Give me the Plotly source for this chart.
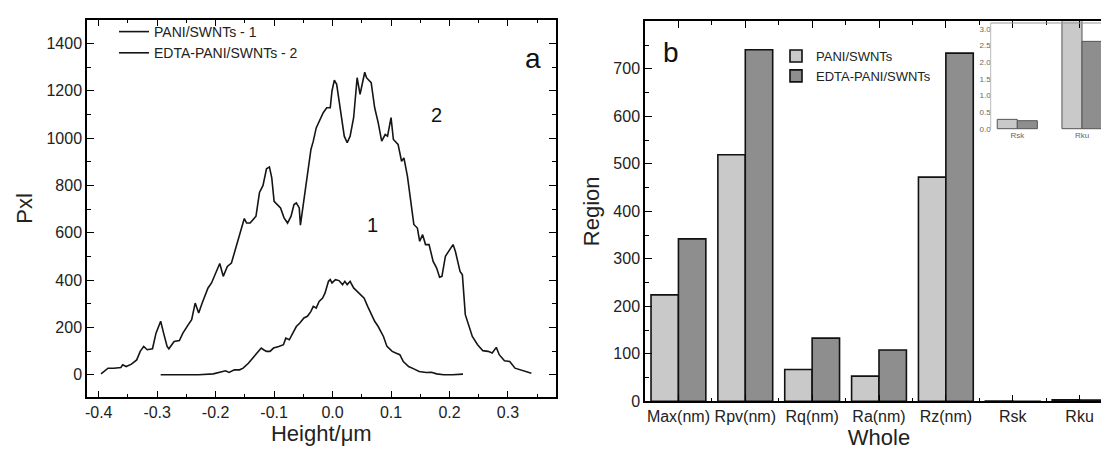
import plotly.graph_objects as go

# ---------------- data: panel a (height distribution) ----------------
h_edta = [-0.396, -0.384, -0.374, -0.362, -0.359, -0.353, -0.344, -0.335, -0.329, -0.323, -0.317, -0.308,
          -0.302, -0.294, -0.289, -0.283, -0.280, -0.271, -0.262, -0.256, -0.247, -0.241, -0.235, -0.229,
          -0.223, -0.213, -0.207, -0.198, -0.193, -0.187, -0.180, -0.173, -0.162, -0.156, -0.151, -0.147,
          -0.141, -0.131, -0.125, -0.119, -0.113, -0.108, -0.104, -0.100, -0.095, -0.089, -0.083, -0.077,
          -0.071, -0.066, -0.062, -0.057, -0.055, -0.051, -0.043, -0.037, -0.033, -0.028, -0.022, -0.016,
          -0.010, -0.004, -0.001, 0.003, 0.007, 0.014, 0.020, 0.025, 0.030, 0.036, 0.042, 0.047, 0.055,
          0.058, 0.066, 0.072, 0.078, 0.084, 0.090, 0.094, 0.100, 0.104, 0.112, 0.118, 0.122, 0.128, 0.134,
          0.139, 0.145, 0.149, 0.154, 0.159, 0.165, 0.172, 0.178, 0.183, 0.187, 0.193, 0.206, 0.210, 0.218,
          0.222, 0.227, 0.232, 0.239, 0.248, 0.257, 0.266, 0.273, 0.280, 0.285, 0.294, 0.303, 0.312, 0.321,
          0.330, 0.340]
p_edta = [4, 28, 28, 31, 42, 35, 45, 63, 99, 120, 106, 110,
          176, 226, 176, 120, 110, 141, 145, 176, 211, 233, 303, 261,
          303, 367, 388, 437, 470, 416, 458, 472, 564, 620, 660, 641,
          641, 670, 770, 800, 870, 878, 832, 733, 719, 705, 663, 641,
          670, 719, 726, 705, 632, 712, 846, 952, 987, 1043, 1079, 1107,
          1128, 1128, 1199, 1245, 1227, 1100, 1008, 980, 1008, 1086, 1255, 1185, 1278,
          1255, 1234, 1128, 1065, 987, 1015, 1008, 1086, 994, 973, 902, 916, 839, 733,
          635, 620, 564, 592, 550, 550, 479, 451, 412, 416, 501, 550, 522, 437,
          423, 254, 211, 162, 127, 102, 99, 92, 116, 85, 59, 56, 28, 21,
          17, 7]

h_pani = [-0.294, -0.229, -0.204, -0.192, -0.183, -0.177, -0.168, -0.159, -0.153, -0.144, -0.134, -0.128,
          -0.122, -0.118, -0.113, -0.107, -0.101, -0.092, -0.084, -0.080, -0.074, -0.068, -0.062, -0.056,
          -0.049, -0.043, -0.037, -0.033, -0.028, -0.023, -0.017, -0.013, -0.010, -0.007, -0.004, -0.001,
          0.005, 0.011, 0.017, 0.021, 0.025, 0.030, 0.036, 0.045, 0.054, 0.060, 0.066, 0.072, 0.078, 0.087,
          0.093, 0.102, 0.108, 0.115, 0.121, 0.130, 0.139, 0.148, 0.160, 0.169, 0.178, 0.190, 0.205, 0.217,
          0.223]
p_pani = [0, 0, 4, 10, 17, 10, 21, 21, 28, 49, 78, 92,
          113, 106, 99, 99, 113, 120, 127, 155, 148, 176, 204, 219,
          240, 247, 268, 289, 282, 310, 324, 345, 367, 395, 402, 388,
          402, 398, 381, 395, 381, 395, 367, 345, 324, 289, 254, 226, 204, 162,
          120, 99, 92, 85, 56, 35, 25, 14, 10, 11, 4, 0, 0, 3,
          3]

# ---------------- data: panel b (roughness parameters) ----------------
categories = ["Max(nm)", "Rpv(nm)", "Rq(nm)", "Ra(nm)", "Rz(nm)", "Rsk", "Rku"]
pani_vals = [224, 519, 67, 53, 472, 0.28, 3.3]
edta_vals = [342, 740, 133, 108, 733, 0.24, 2.62]
inset_idx = [5, 6]
inset_ticks = [0, 0.5, 1.0, 1.5, 2.0, 2.5, 3.0]

FONT = "Liberation Sans, Arial, sans-serif"
LIGHT = "#c9c9c9"
DARK = "#8e8e8e"

fig = go.Figure()

fig.add_trace(go.Scatter(x=h_pani, y=p_pani, mode="lines", name="PANI/SWNTs - 1",
                         line=dict(color="#151515", width=1.6), xaxis="x", yaxis="y", legend="legend"))
fig.add_trace(go.Scatter(x=h_edta, y=p_edta, mode="lines", name="EDTA-PANI/SWNTs - 2",
                         line=dict(color="#151515", width=1.6), xaxis="x", yaxis="y", legend="legend"))

xpos = list(range(len(categories)))
fig.add_trace(go.Bar(x=xpos, y=pani_vals, name="PANI/SWNTs", width=0.41, offset=-0.41,
                     marker=dict(color=LIGHT, line=dict(color="#111", width=1.6)),
                     xaxis="x2", yaxis="y2", legend="legend2"))
fig.add_trace(go.Bar(x=xpos, y=edta_vals, name="EDTA-PANI/SWNTs", width=0.41, offset=0.0,
                     marker=dict(color=DARK, line=dict(color="#111", width=1.6)),
                     xaxis="x2", yaxis="y2", legend="legend2"))

ix = list(range(len(inset_idx)))
fig.add_trace(go.Bar(x=ix, y=[pani_vals[i] for i in inset_idx], width=0.31, offset=-0.31,
                     marker=dict(color=LIGHT, line=dict(color="#555", width=1)),
                     xaxis="x3", yaxis="y3", showlegend=False))
fig.add_trace(go.Bar(x=ix, y=[edta_vals[i] for i in inset_idx], width=0.31, offset=0.0,
                     marker=dict(color=DARK, line=dict(color="#555", width=1)),
                     xaxis="x3", yaxis="y3", showlegend=False))

W, H = 1109, 453
def px(v): return v / W
def py(v): return 1 - v / H

R_L, R_R, R_T, R_B = 637, 1105, 13.3, 393.3
I_L, I_R, I_B, I_T = 982.7, 1101, 120.7, 15
I_PX_PER_UNIT_Y = 100 / 3.0
I_PX_PER_CAT = 64.7
I_CAT0 = 1009.3
y3_hi = (I_B - R_T) / I_PX_PER_UNIT_Y
y3_lo = y3_hi - (R_B - R_T) / I_PX_PER_UNIT_Y
x3_lo = -(I_CAT0 - R_L) / I_PX_PER_CAT
x3_hi = x3_lo + (R_R - R_L) / I_PX_PER_CAT
ix_left = -(I_CAT0 - I_L) / I_PX_PER_CAT
ix_right = (I_R - I_CAT0) / I_PX_PER_CAT
iy_top = (I_B - I_T) / I_PX_PER_UNIT_Y

common = dict(showline=True, linecolor="black", linewidth=1.5, mirror="allticks", ticks="inside",
              tickcolor="black", tickwidth=1.3, ticklen=7, showgrid=False, zeroline=False,
              tickfont=dict(family=FONT, size=16, color="#222"))

fig.update_layout(
    width=W, height=H, margin=dict(l=0, r=0, t=0, b=0, autoexpand=False),
    paper_bgcolor="white", plot_bgcolor="white",
    font=dict(family=FONT, color="#222"),
    barmode="group",
    xaxis=dict(domain=[px(79), px(547.7)], anchor="y", range=[-0.42, 0.3816],
               tickvals=[-0.4, -0.3, -0.2, -0.1, 0.0, 0.1, 0.2, 0.3],
               ticktext=["-0.4", "-0.3", "-0.2", "-0.1", "0.0", "0.1", "0.2", "0.3"],
               minor=dict(ticks="inside", ticklen=4, tickcolor="black", dtick=0.05, tick0=0),
               title=dict(text="Height/μm", font=dict(family=FONT, size=22), standoff=5),
               **common),
    yaxis=dict(domain=[py(389.3), py(11.7)], anchor="x", range=[-95, 1500],
               tickvals=[0, 200, 400, 600, 800, 1000, 1200, 1400],
               minor=dict(ticks="inside", ticklen=4, tickcolor="black", dtick=100, tick0=0),
               title=dict(text="Pxl", font=dict(family=FONT, size=22), standoff=8),
               **common),
    xaxis2=dict(domain=[px(R_L), px(R_R)], anchor="y2", range=[-0.5, 6.5],
                tickvals=xpos, ticktext=categories,
                minor=dict(ticks="inside", ticklen=4, tickcolor="black", tickvals=[0.5, 1.5, 2.5, 3.5, 4.5, 5.5]),
                title=dict(text="Whole", font=dict(family=FONT, size=22), standoff=5),
                **common),
    yaxis2=dict(domain=[py(R_B), py(R_T)], anchor="x2", range=[0, 800],
                tickvals=[0, 100, 200, 300, 400, 500, 600, 700],
                minor=dict(ticks="inside", ticklen=4, tickcolor="black", dtick=50, tick0=0),
                title=dict(text="Region", font=dict(family=FONT, size=22), standoff=8),
                **common),
    xaxis3=dict(overlaying="x2", anchor="free", position=py(I_B), range=[x3_lo, x3_hi],
                tickvals=ix, ticktext=[categories[i] for i in inset_idx],
                showline=False, ticks="", showgrid=False, zeroline=False,
                tickfont=dict(family=FONT, size=8, color="#666")),
    yaxis3=dict(overlaying="y2", anchor="free", position=px(I_L), range=[y3_lo, y3_hi],
                tickvals=inset_ticks, ticktext=["%.1f" % t for t in inset_ticks],
                showline=False, ticks="", showgrid=False, zeroline=False,
                tickfont=dict(family=FONT, size=8, color="#666")),
    legend=dict(x=px(106), y=py(8), xanchor="left", yanchor="top", bgcolor="rgba(0,0,0,0)",
                font=dict(family=FONT, size=14, color="#222"), tracegroupgap=0),
    legend2=dict(x=px(768), y=py(33), xanchor="left", yanchor="top", bgcolor="rgba(0,0,0,0)",
                 font=dict(family=FONT, size=13, color="#222"), tracegroupgap=0),
    shapes=[
        dict(type="line", xref="x3", yref="y3", x0=ix_left, x1=ix_left, y0=0, y1=iy_top,
             line=dict(color="#bbbbbb", width=1)),
        dict(type="line", xref="x3", yref="y3", x0=ix_left, x1=ix_right, y0=iy_top, y1=iy_top,
             line=dict(color="#999999", width=1)),
    ],
    annotations=[
        dict(text="a", x=px(525), y=py(50), xref="paper", yref="paper", showarrow=False,
             xanchor="center", yanchor="middle", font=dict(family=FONT, size=28, color="#111")),
        dict(text="b", x=px(663), y=py(45), xref="paper", yref="paper", showarrow=False,
             xanchor="center", yanchor="middle", font=dict(family=FONT, size=28, color="#111")),
        dict(text="2", x=0.177, y=1097, xref="x", yref="y", showarrow=False,
             font=dict(family=FONT, size=20, color="#111")),
        dict(text="1", x=0.0675, y=631, xref="x", yref="y", showarrow=False,
             font=dict(family=FONT, size=20, color="#111")),
    ],
)

fig.write_html("out.html")
